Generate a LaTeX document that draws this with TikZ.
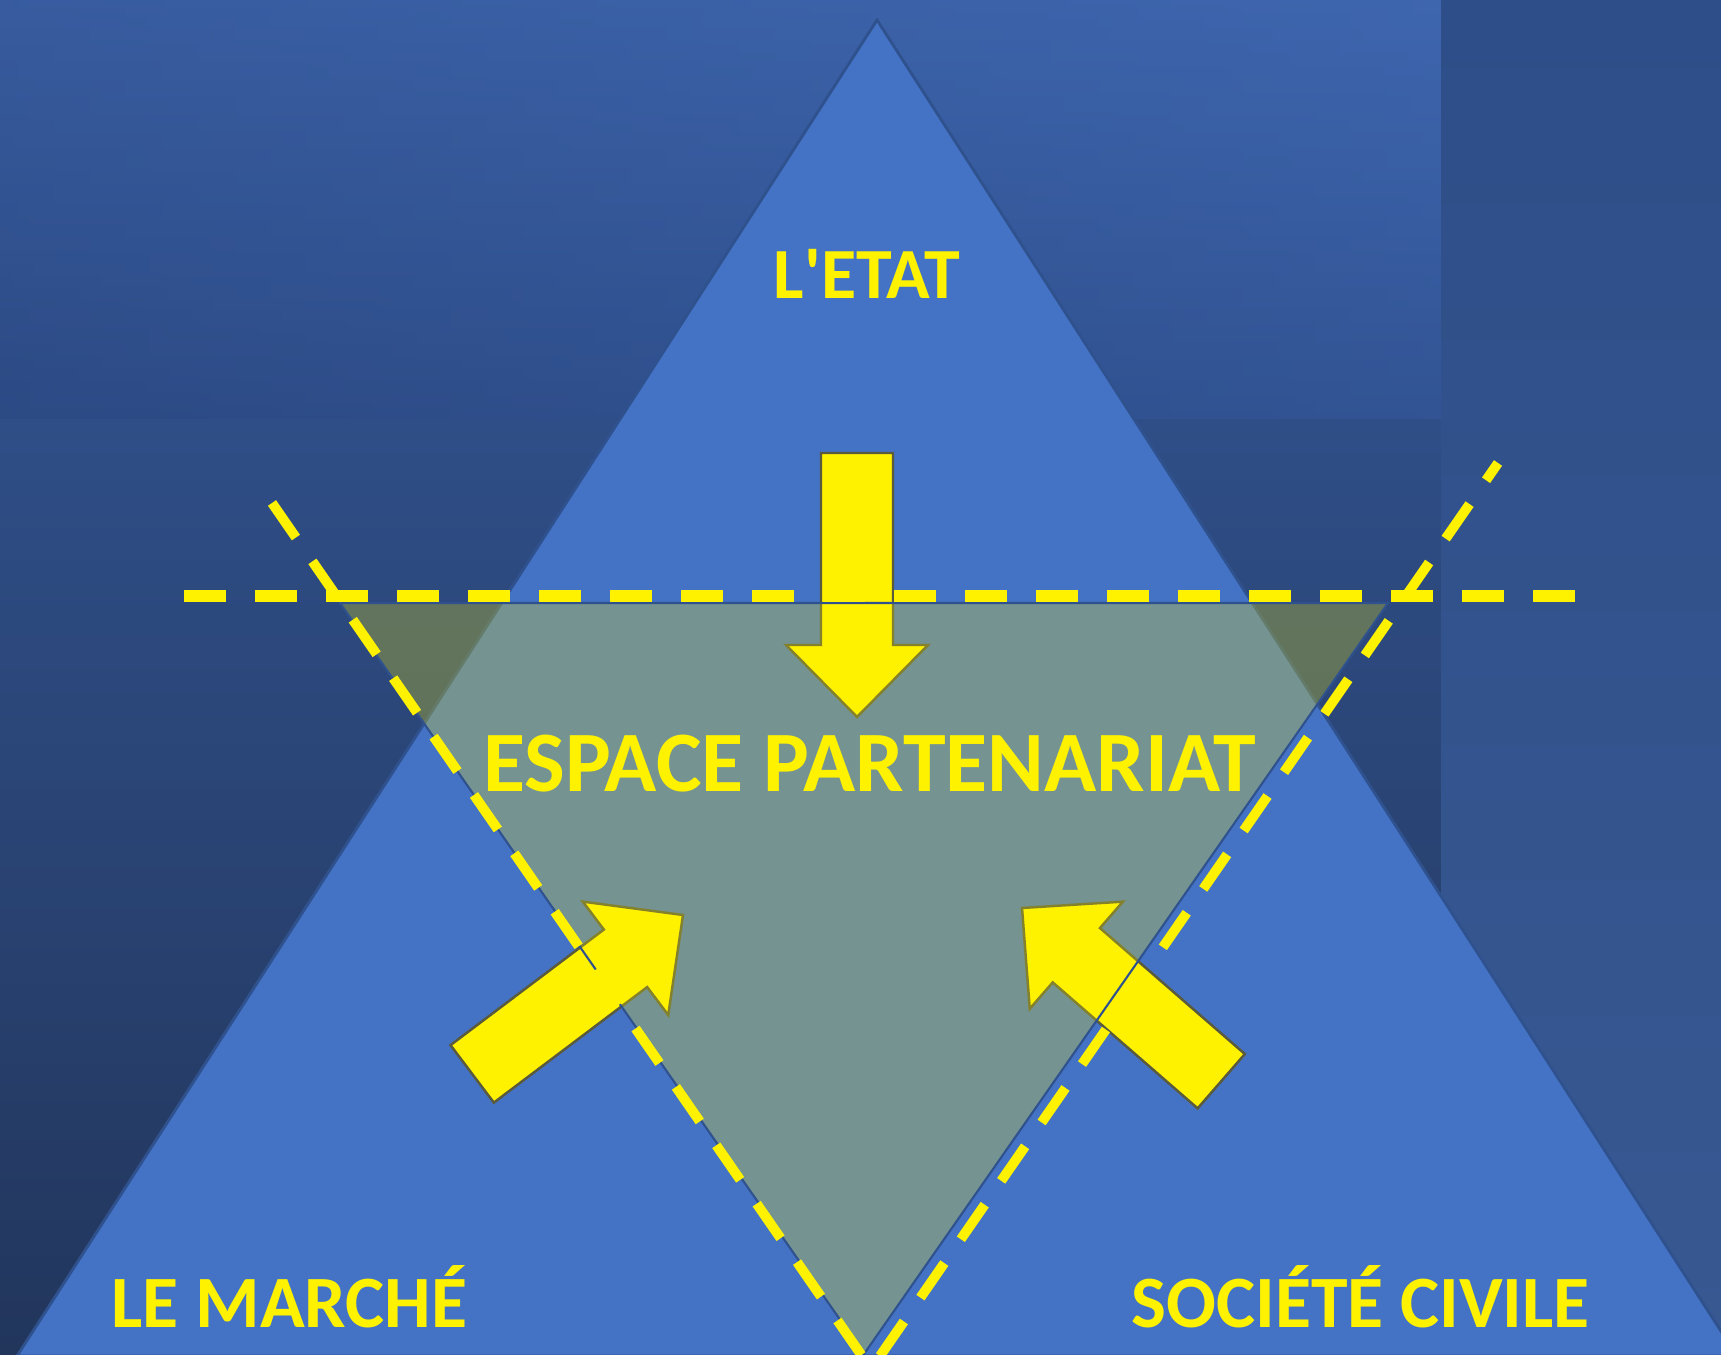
\documentclass[tikz,border=0pt]{standalone}
\usepackage{fontspec}
\setmainfont{Carlito}

\definecolor{bgtop}{RGB}{60,98,168}
\definecolor{bgband}{RGB}{44,74,132}
\definecolor{bglowtop}{RGB}{47,78,135}
\definecolor{bglowbottom}{RGB}{34,54,92}
\definecolor{bgrighttop}{RGB}{45,78,136}
\definecolor{bgrightmid}{RGB}{58,92,152}
\definecolor{bgrightbottom}{RGB}{56,88,146}
\definecolor{slideblue}{RGB}{68,114,196}
\definecolor{slideline}{RGB}{47,82,143}
\definecolor{arrowedge}{RGB}{90,90,60}

\tikzset{
  zone/.style={fill=slideblue, draw=slideline, line width=0.8pt},
  partner/.style={fill=yellow, fill opacity=0.26, draw=slideline, line width=0.6pt},
  cutline/.style={draw=yellow, line width=3.2pt, dash pattern=on 0.42cm off 0.29cm},
  arrowbody/.style={fill=yellow, draw=arrowedge, line width=0.7pt},
  slidetext/.style={text=yellow, inner sep=0pt, anchor=base},
  bigarrow/.pic={
    \draw[arrowbody] (0,0) -- (-0.72,0.71) -- (-0.72,0.36) -- (-2.64,0.36)
      -- (-2.64,-0.36) -- (-0.72,-0.36) -- (-0.72,-0.71) -- cycle;
  }
}

\begin{document}
\begin{tikzpicture}
\useasboundingbox (0,0) rectangle (17.21,13.54);
\clip (0,0) rectangle (17.21,13.54);

% backdrop
\shade[top color=bgtop, bottom color=bgband] (0,13.54) rectangle (14.41,9.34);
\shade[left color=bgband, right color=slideblue, opacity=0.25] (0,13.54) rectangle (14.41,9.34);
\shade[top color=bglowtop, bottom color=bglowbottom] (0,9.34) rectangle (14.41,0);
\shade[top color=bgrighttop, middle color=bgrightmid, bottom color=bgrightbottom] (14.41,13.54) rectangle (17.21,0);

% the three sectors
\draw[zone] (8.77,13.34) -- (0.17,-0.02) -- (17.37,-0.02) -- cycle;

% arrows towards the centre
\pic[rotate=-90] at (8.57,6.37) {bigarrow};
\pic[rotate=37] at (6.83,4.39) {bigarrow};
\pic[rotate=139] at (10.22,4.46) {bigarrow};

% partnership zone
\draw[partner] (3.40,7.51) -- (13.88,7.51) -- (8.64,0) -- cycle;
\draw[cutline] (1.84,7.58) -- (15.75,7.58);
\draw[cutline, line width=2.8pt] (2.72,8.51) -- (8.62,-0.02);
\draw[cutline, line width=2.8pt] (8.80,-0.02) -- (14.98,8.91);

\node[slidetext, font=\bfseries\fontsize{20.5}{21}\selectfont] (etat) at (8.67,10.55) {L\textquotesingle ETAT};
\node[slidetext, font=\bfseries\fontsize{24.5}{25}\selectfont] (espace) at (8.695,5.62) {ESPACE PARTENARIAT};
\node[slidetext, font=\bfseries\fontsize{21}{22}\selectfont] (marche) at (2.895,0.27) {LE MARCHÉ};
\node[slidetext, font=\bfseries\fontsize{21}{22}\selectfont] (societe) at (13.605,0.27) {SOCIÉTÉ CIVILE};
\end{tikzpicture}
\end{document}
